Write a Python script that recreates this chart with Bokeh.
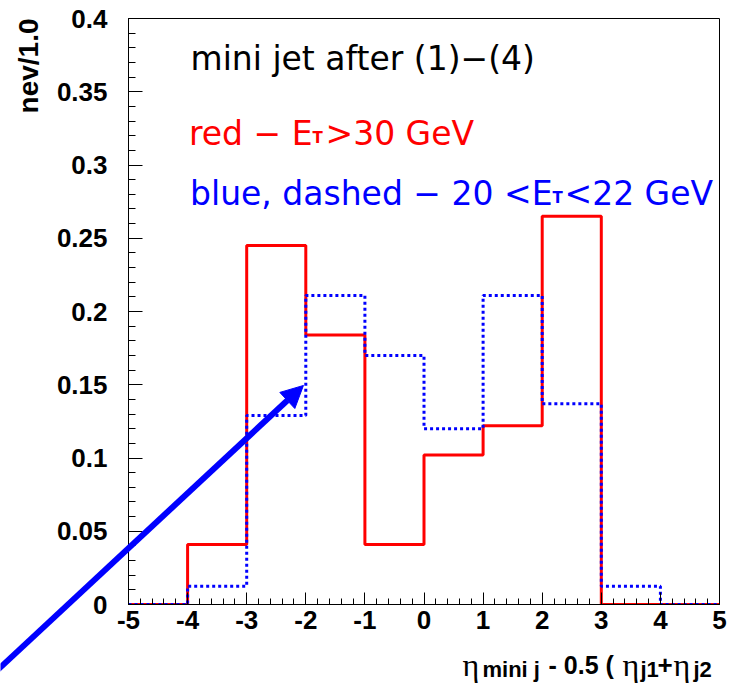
import math
from bokeh.plotting import figure
from bokeh.models import Range1d, FixedTicker, CustomJSTickFormatter, Label, Arrow, NormalHead
from bokeh.embed import file_html
from bokeh.resources import INLINE

# ---- data ----
bin_edges = [-5, -4, -3, -2, -1, 0, 1, 2, 3, 4, 5]
red_values = [0.0, 0.041, 0.245, 0.184, 0.041, 0.102, 0.122, 0.265, 0.0, 0.0]
blue_values = [0.0, 0.0125, 0.129, 0.211, 0.170, 0.120, 0.211, 0.137, 0.0125, 0.0]

x_ticks = [-5, -4, -3, -2, -1, 0, 1, 2, 3, 4, 5]
y_ticks = [0, 0.05, 0.1, 0.15, 0.2, 0.25, 0.3, 0.35, 0.4]
x_minor = [round(-5 + 0.2 * i, 2) for i in range(51)]
y_minor = [round(0.01 * i, 2) for i in range(41)]

title_line = "mini jet after (1)\u2212(4)"
red_text = ["red \u2212 E", "T", ">30 GeV"]
blue_text = ["blue, dashed \u2212 20 <E", "T", "<22 GeV"]
y_title = "nev/1.0"

arrow_start = (-7.33, -0.049)
arrow_end = (-2.04, 0.1495)

W, H = 729, 683
BL, BR, BT, BB = 128, 10, 18, 79
FW, FH = W - BL - BR, H - BT - BB
X0, X1, Y0, Y1 = -5, 5, 0, 0.4

p = figure(frame_width=FW, frame_height=FH,
           x_range=Range1d(X0, X1), y_range=Range1d(Y0, Y1),
           output_backend="svg", toolbar_location=None,
           min_border_left=BL, min_border_right=BR,
           min_border_top=BT, min_border_bottom=BB)
p.background_fill_color = "white"
p.border_fill_color = "white"
p.xgrid.visible = False
p.ygrid.visible = False
p.outline_line_color = "black"
p.outline_line_width = 1
p.outline_line_alpha = 1.0

fmt_code = "return Number(tick.toFixed(2)).toString();"
p.xaxis[0].ticker = FixedTicker(ticks=x_ticks, minor_ticks=x_minor)
p.yaxis[0].ticker = FixedTicker(ticks=y_ticks, minor_ticks=y_minor)
for ax in (p.xaxis[0], p.yaxis[0]):
    ax.formatter = CustomJSTickFormatter(code=fmt_code)
    ax.major_tick_out = 0
    ax.minor_tick_out = 0
    ax.axis_line_color = "black"
    ax.major_tick_line_color = "black"
    ax.minor_tick_line_color = "black"
    ax.major_label_text_font = "Liberation Sans"
    ax.major_label_text_font_style = "bold"
    ax.major_label_text_font_size = "26px"
    ax.major_label_text_color = "black"
    ax.axis_label = None
p.xaxis[0].major_tick_in = 12
p.xaxis[0].minor_tick_in = 6
p.yaxis[0].major_tick_in = 14
p.yaxis[0].minor_tick_in = 7
p.xaxis[0].major_label_standoff = 6
p.yaxis[0].major_label_standoff = 21

xs = list(bin_edges)
p.step(x=xs, y=red_values + [red_values[-1]], mode="after",
       line_color="#ff0000", line_width=3)
p.step(x=xs, y=blue_values + [blue_values[-1]], mode="after",
       line_color="#0000ff", line_width=3, line_dash="3 3")


def lab(fig, x, y, text, color="black", size="33px", font="DejaVu Sans", align="left",
        style="normal", angle=0.0, baseline="alphabetic"):
    fig.add_layout(Label(x=x, y=y, text=text, text_color=color, text_font_size=size,
                         text_font=font, text_align=align, text_font_style=style,
                         angle=angle, text_baseline=baseline))


lab(p, -3.951, 0.3727, title_line, "black")
lab(p, -1.887, 0.3215, red_text[0], "#ff0000", align="right")
lab(p, -1.887, 0.3187, red_text[1], "#ff0000", size="15px", style="bold")
lab(p, -1.667, 0.3215, red_text[2], "#ff0000")
lab(p, 2.174, 0.2805, blue_text[0], "#0000ff", align="right")
lab(p, 2.174, 0.2777, blue_text[1], "#0000ff", size="15px", style="bold")
lab(p, 2.377, 0.2805, blue_text[2], "#0000ff")

# transparent overlay covering the whole canvas, with the same data
# coordinates as the main frame (texts and arrow outside the frame)
dx = (X1 - X0) / FW
dy = (Y1 - Y0) / FH
ov = figure(frame_width=W, frame_height=H,
            x_range=Range1d(X0 - BL * dx, X1 + BR * dx),
            y_range=Range1d(Y0 - BB * dy, Y1 + BT * dy),
            output_backend="svg", toolbar_location=None,
            x_axis_location=None, y_axis_location=None,
            min_border=0)
ov.xgrid.visible = False
ov.ygrid.visible = False
ov.background_fill_alpha = 0
ov.border_fill_alpha = 0
ov.outline_line_color = None
ov.styles = {"position": "absolute", "left": "0px", "top": "0px"}

# y axis title (rotated, at top)
lab(ov, -6.692, 0.4, y_title, "black", size="28px", font="Liberation Sans", align="right",
    style="bold", angle=math.pi / 2, baseline="middle")

# x axis title pieces
eta = "\u03b7"
y_main, y_sub = -0.0410, -0.0445
lab(ov, 0.651, y_main, eta, size="32px", font="Liberation Serif")
lab(ov, 0.990, y_sub, "mini j", size="22px", font="Liberation Sans", style="bold")
lab(ov, 2.107, y_main, "- 0.5 (", size="25px", font="Liberation Sans", style="bold")
lab(ov, 3.359, y_main, eta, size="32px", font="Liberation Serif")
lab(ov, 3.663, y_sub, "j1", size="22px", font="Liberation Sans", style="bold")
lab(ov, 3.951, y_main, "+", size="26px", font="Liberation Sans", style="bold")
lab(ov, 4.222, y_main, eta, size="32px", font="Liberation Serif")
lab(ov, 4.560, y_sub, "j2", size="22px", font="Liberation Sans", style="bold")

ov.add_layout(Arrow(end=NormalHead(size=22, fill_color="#0000ff", line_color="#0000ff"),
                    x_start=arrow_start[0], y_start=arrow_start[1],
                    x_end=arrow_end[0], y_end=arrow_end[1],
                    line_color="#0000ff", line_width=6))

open("out.html", "w").write(file_html([p, ov], INLINE))
